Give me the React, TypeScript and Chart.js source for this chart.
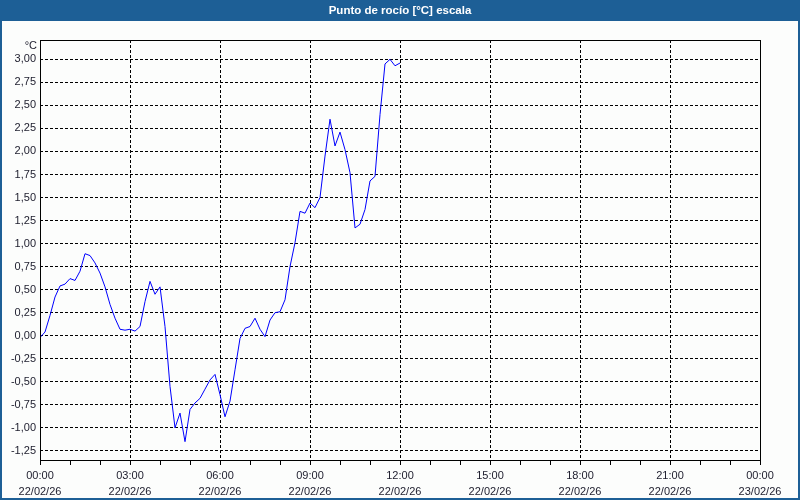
import React, { useEffect, useRef } from 'react';
import { Chart, registerables } from 'chart.js';

Chart.register(...registerables);

const TITLE = 'Punto de rocío [°C] escala';
const UNIT = '°C';
const SAMPLE_MINUTES = 10;

// Dew point, one reading every 10 minutes from 00:00 to 12:00
const DEW_POINT: number[] = [
  -0.02, 0.04, 0.22, 0.42, 0.54, 0.56, 0.62, 0.6, 0.7, 0.89,
  0.87, 0.79, 0.68, 0.53, 0.34, 0.19, 0.07, 0.06, 0.07, 0.05,
  0.1, 0.37, 0.59, 0.45, 0.53, 0.1, -0.55, -1.0, -0.84, -1.15,
  -0.8, -0.73, -0.68, -0.58, -0.48, -0.42, -0.64, -0.88, -0.71, -0.37,
  -0.03, 0.08, 0.1, 0.19, 0.07, -0.01, 0.17, 0.25, 0.26, 0.39,
  0.75, 1.01, 1.35, 1.33, 1.44, 1.39, 1.5, 1.95, 2.35, 2.06,
  2.21, 2.02, 1.77, 1.17, 1.21, 1.37, 1.68, 1.73, 2.4, 2.95,
  3.0, 2.93, 2.96,
];

const Y_TICKS: number[] = [-1.25, -1.0, -0.75, -0.5, -0.25, 0, 0.25, 0.5, 0.75, 1.0, 1.25, 1.5, 1.75, 2.0, 2.25, 2.5, 2.75, 3.0];
const Y_MIN = -1.36;
const Y_MAX = 3.21;

const X_TICK_HOURS: number[] = [0, 1, 2, 3, 4, 5, 6, 7, 8, 9, 10, 11, 12, 13, 14, 15, 16, 17, 18, 19, 20, 21, 22, 23, 24];
const X_LABEL_HOURS: number[] = [0, 3, 6, 9, 12, 15, 18, 21, 24];
const X_LABELS: string[][] = [
  ['00:00', '22/02/26'],
  ['03:00', '22/02/26'],
  ['06:00', '22/02/26'],
  ['09:00', '22/02/26'],
  ['12:00', '22/02/26'],
  ['15:00', '22/02/26'],
  ['18:00', '22/02/26'],
  ['21:00', '22/02/26'],
  ['00:00', '23/02/26'],
];

const FONT = '"Liberation Sans", Arial, sans-serif';
const BAR_BLUE = '#1d5f96';
const TEXT = '#1c1c2c';

const framePlugin = {
  id: 'frame',
  beforeDraw(chart: any) {
    const { ctx, width, height } = chart;
    ctx.save();
    ctx.fillStyle = '#fcfdfc';
    ctx.fillRect(0, 0, width, height);
    ctx.fillStyle = BAR_BLUE;
    ctx.fillRect(0, 0, width, 21);
    ctx.fillRect(0, 0, 2, height);
    ctx.fillRect(width - 2, 0, 2, height);
    ctx.fillRect(0, height - 2, width, 2);
    ctx.fillStyle = '#ffffff';
    ctx.font = `bold 11.5px ${FONT}`;
    ctx.textAlign = 'center';
    ctx.textBaseline = 'middle';
    ctx.fillText(TITLE, width / 2, 11);
    ctx.restore();
  },
  afterDraw(chart: any) {
    const { ctx, chartArea } = chart;
    ctx.save();
    ctx.strokeStyle = '#000000';
    ctx.lineWidth = 1;
    ctx.setLineDash([]);
    ctx.strokeRect(
      Math.round(chartArea.left) + 0.5,
      Math.round(chartArea.top) + 0.5,
      Math.round(chartArea.right) - Math.round(chartArea.left),
      Math.round(chartArea.bottom) - Math.round(chartArea.top) - 1
    );
    ctx.fillStyle = TEXT;
    ctx.font = `11px ${FONT}`;
    ctx.textAlign = 'right';
    ctx.textBaseline = 'middle';
    ctx.fillText(UNIT, chartArea.left - 3, chartArea.top + 6);
    ctx.restore();
  },
};

export default function App() {
  const ref = useRef<HTMLCanvasElement | null>(null);

  useEffect(() => {
    if (!ref.current) return;
    const points = DEW_POINT.map((v, i) => ({ x: i * SAMPLE_MINUTES, y: v }));
    const chart = new Chart(ref.current, {
      type: 'line',
      data: {
        datasets: [
          {
            data: points,
            borderColor: '#0000ff',
            borderWidth: 1,
            pointRadius: 0,
            tension: 0,
            fill: false,
          },
        ],
      },
      options: {
        responsive: false,
        animation: false,
        events: [],
        layout: { padding: { top: 40, left: 0, right: 40, bottom: 0 } },
        plugins: { legend: { display: false }, tooltip: { enabled: false }, title: { display: false } },
        scales: {
          x: {
            type: 'linear',
            min: 0,
            max: 24 * 60,
            afterBuildTicks: (scale: any) => {
              scale.ticks = X_TICK_HOURS.map((h) => ({ value: h * 60 }));
            },
            afterFit: (scale: any) => {
              scale.height = 39;
              scale.paddingLeft = 0;
              scale.paddingRight = 0;
            },
            ticks: {
              autoSkip: false,
              maxRotation: 0,
              minRotation: 0,
              padding: 3,
              color: TEXT,
              font: { family: FONT, size: 11, lineHeight: 1.45 },
              callback: (value: any) => {
                const idx = X_LABEL_HOURS.indexOf(Number(value) / 60);
                return idx >= 0 ? X_LABELS[idx] : '';
              },
            },
            grid: {
              color: (ctx: any) => {
                const v = ctx.tick ? ctx.tick.value / 60 : -1;
                return X_LABEL_HOURS.includes(v) ? '#000000' : 'rgba(0,0,0,0)';
              },
              tickColor: '#000000',
              tickLength: 4,
              lineWidth: 1,
            },
            border: { display: false, dash: [3, 2] },
          },
          y: {
            type: 'linear',
            min: Y_MIN,
            max: Y_MAX,
            afterBuildTicks: (scale: any) => {
              scale.ticks = Y_TICKS.map((v) => ({ value: v }));
            },
            afterFit: (scale: any) => {
              scale.width = 40;
              scale.paddingTop = 0;
              scale.paddingBottom = 0;
            },
            ticks: {
              padding: 4,
              color: TEXT,
              font: { family: FONT, size: 11 },
              callback: (value: any) => Number(value).toFixed(2).replace('.', ','),
            },
            grid: {
              color: '#000000',
              drawTicks: false,
              lineWidth: 1,
            },
            border: { display: false, dash: [3, 2] },
          },
        },
      },
      plugins: [framePlugin],
    });
    return () => chart.destroy();
  }, []);

  return (
    <div style={{ position: 'fixed', left: 0, top: 0, width: 800, height: 500 }}>
      <canvas ref={ref} width={800} height={500} style={{ width: 800, height: 500, display: 'block' }} />
    </div>
  );
}
